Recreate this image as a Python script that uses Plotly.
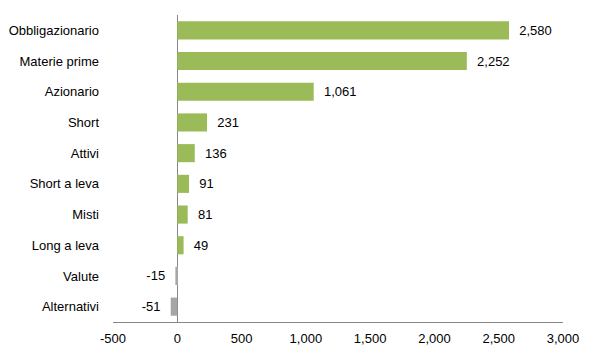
import plotly.graph_objects as go

categories = ["Obbligazionario", "Materie prime", "Azionario", "Short", "Attivi",
              "Short a leva", "Misti", "Long a leva", "Valute", "Alternativi"]
values = [2580, 2252, 1061, 231, 136, 91, 81, 49, -15, -51]
tick_vals = [-500, 0, 500, 1000, 1500, 2000, 2500, 3000]
tick_text = ["-500", "0", "500", "1,000", "1,500", "2,000", "2,500", "3,000"]

colors = ["#9BBB59" if v >= 0 else "#A6A6A6" for v in values]
labels = [f"  {v:,}" if v >= 0 else f"{v:,}  " for v in values]

fig = go.Figure(go.Bar(
    y=categories, x=values, orientation="h",
    marker=dict(color=colors, line=dict(width=0)),
    text=labels, textposition="outside", cliponaxis=False,
    textfont=dict(family="Liberation Sans, Arial", size=13, color="black"),
))

fig.update_layout(
    width=595, height=354,
    margin=dict(l=113, r=32, t=15, b=32),
    paper_bgcolor="white", plot_bgcolor="white",
    bargap=0.41, showlegend=False,
    font=dict(family="Liberation Sans, Arial", size=13, color="black"),
)
fig.update_xaxes(
    range=[-500, 3000], tickvals=tick_vals, ticktext=tick_text,
    showgrid=False, showline=True, linecolor="#868686", linewidth=1,
    zeroline=True, zerolinecolor="#868686", zerolinewidth=1,
    ticks="", ticklabelstandoff=4, automargin=False,
)
fig.update_yaxes(
    autorange="reversed", showgrid=False, showline=False, zeroline=False,
    ticks="", ticklabelstandoff=13, automargin=False,
)

fig.write_html("out.html")
